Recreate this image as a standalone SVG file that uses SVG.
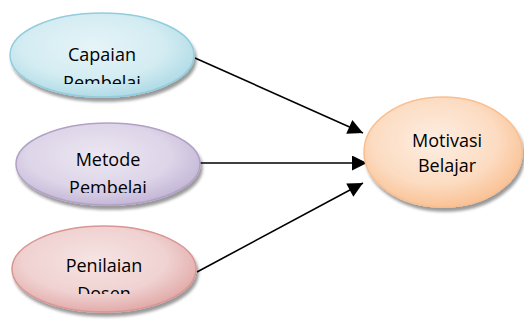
<svg xmlns="http://www.w3.org/2000/svg" width="524" height="323" viewBox="0 0 524 323">
  <style>
    .lbl { font-family: "Open Sans", "Liberation Sans", sans-serif; font-size: 18px; fill: #000; text-anchor: middle; }
    .conn { stroke: #000; stroke-width: 1.6; fill: none; marker-end: url(#ah); }
  </style>
  <defs>
    <marker id="ah" viewBox="0 0 10 10" refX="10" refY="5" markerUnits="userSpaceOnUse" markerWidth="16" markerHeight="15" orient="auto">
      <path d="M0,0 L10,5 L0,10 Z" fill="#000"/>
    </marker>
    <filter id="sh" x="-20%" y="-20%" width="140%" height="150%">
      <feGaussianBlur in="SourceAlpha" stdDeviation="1.5"/>
      <feOffset dx="2" dy="4" result="b"/>
      <feComponentTransfer><feFuncA type="linear" slope="0.4"/></feComponentTransfer>
      <feMerge><feMergeNode/><feMergeNode in="SourceGraphic"/></feMerge>
    </filter>
    <radialGradient id="gc" cx="0.45" cy="0.4" r="0.65">
      <stop offset="0" stop-color="#e6f4f8"/>
      <stop offset="0.6" stop-color="#d3ecf2"/>
      <stop offset="1" stop-color="#a9d8e4"/>
    </radialGradient>
    <radialGradient id="gp" cx="0.45" cy="0.4" r="0.65">
      <stop offset="0" stop-color="#ece7f2"/>
      <stop offset="0.6" stop-color="#ddd5e8"/>
      <stop offset="1" stop-color="#bfb1d3"/>
    </radialGradient>
    <radialGradient id="gr" cx="0.45" cy="0.4" r="0.65">
      <stop offset="0" stop-color="#f6e4e3"/>
      <stop offset="0.6" stop-color="#efd2d1"/>
      <stop offset="1" stop-color="#dfa3a1"/>
    </radialGradient>
    <radialGradient id="go" cx="0.45" cy="0.4" r="0.65">
      <stop offset="0" stop-color="#fdeee2"/>
      <stop offset="0.6" stop-color="#fcdcc2"/>
      <stop offset="1" stop-color="#f9bd8c"/>
    </radialGradient>
    <clipPath id="c1"><rect x="40" y="30" width="140" height="54"/></clipPath>
    <clipPath id="c2"><rect x="40" y="140" width="140" height="53"/></clipPath>
    <clipPath id="c3"><rect x="40" y="248" width="140" height="46"/></clipPath>
  </defs>

  <g id="connectors">
    <line class="conn" x1="195" y1="58" x2="363" y2="133"/>
    <line class="conn" x1="200" y1="163" x2="367" y2="163"/>
    <line class="conn" x1="197" y1="272" x2="363" y2="183"/>
  </g>

  <g id="capaian">
    <ellipse cx="102" cy="55" rx="92" ry="42" fill="url(#gc)" stroke="#93cddd" stroke-width="1.5" filter="url(#sh)"/>
    <g clip-path="url(#c1)">
      <text class="lbl" x="102" y="61">Capaian</text>
      <text class="lbl" x="102" y="89">Pembelaj</text>
    </g>
  </g>

  <g id="metode">
    <ellipse cx="108" cy="164" rx="92" ry="41" fill="url(#gp)" stroke="#b2a1c7" stroke-width="1.5" filter="url(#sh)"/>
    <g clip-path="url(#c2)">
      <text class="lbl" x="108" y="166">Metode</text>
      <text class="lbl" x="108" y="194">Pembelaj</text>
    </g>
  </g>

  <g id="penilaian">
    <ellipse cx="104" cy="269" rx="92" ry="43" fill="url(#gr)" stroke="#d99694" stroke-width="1.5" filter="url(#sh)"/>
    <g clip-path="url(#c3)">
      <text class="lbl" x="104" y="272">Penilaian</text>
      <text class="lbl" x="104" y="300">Dosen</text>
    </g>
  </g>

  <g id="motivasi">
    <ellipse cx="443" cy="152" rx="79" ry="55" fill="url(#go)" stroke="#fabf8f" stroke-width="1.5" filter="url(#sh)"/>
    <text class="lbl" x="447" y="147">Motivasi</text>
    <text class="lbl" x="447" y="172">Belajar</text>
  </g>
</svg>
